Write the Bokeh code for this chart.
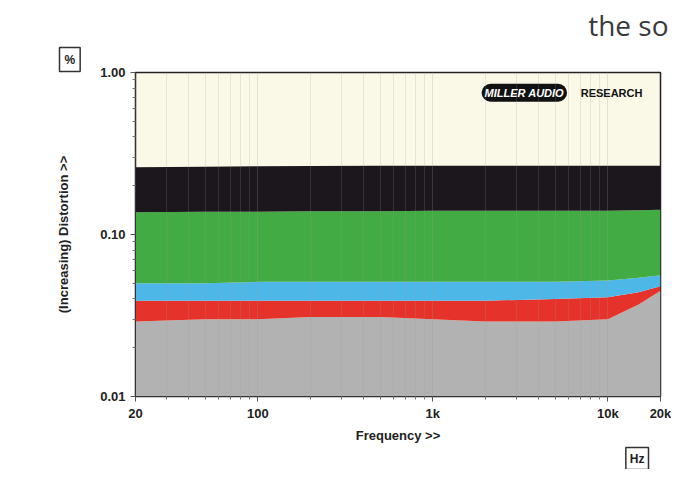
from bokeh.plotting import figure
from bokeh.models import FixedTicker, Label, Title
from bokeh.embed import file_html
from bokeh.resources import INLINE

# ---- data ----
freqs = [20, 50, 100, 200, 500, 1000, 2000, 5000, 10000, 15000, 20000]
gray_top = [0.029, 0.030, 0.030, 0.031, 0.031, 0.030, 0.029, 0.029, 0.030, 0.037, 0.045]
red_top = [0.039, 0.039, 0.039, 0.039, 0.039, 0.039, 0.039, 0.040, 0.041, 0.044, 0.048]
blue_top = [0.050, 0.050, 0.051, 0.051, 0.051, 0.051, 0.051, 0.051, 0.052, 0.054, 0.056]
green_top = [0.137, 0.138, 0.138, 0.139, 0.139, 0.140, 0.140, 0.140, 0.140, 0.141, 0.142]
black_top = [0.260, 0.262, 0.264, 0.265, 0.266, 0.266, 0.266, 0.266, 0.266, 0.266, 0.266]

x_ticks = [20, 100, 1000, 10000, 20000]
x_labels = ["20", "100", "1k", "10k", "20k"]
x_minor = [30, 40, 50, 60, 70, 80, 90, 200, 300, 400, 500, 600, 700, 800, 900,
           2000, 3000, 4000, 5000, 6000, 7000, 8000, 9000]
y_ticks = [0.01, 0.1, 1.0]
y_labels = ["0.01", "0.10", "1.00"]
y_minor = [0.02, 0.03, 0.04, 0.05, 0.06, 0.07, 0.08, 0.09,
           0.2, 0.3, 0.4, 0.5, 0.6, 0.7, 0.8, 0.9]

y_min, y_max = 0.01, 1.0
x_min, x_max = 20, 20000

FONT = "Liberation Sans"

p = figure(width=671, height=469, x_axis_type="log", y_axis_type="log",
           x_range=(x_min, x_max), y_range=(y_min, y_max),
           output_backend="svg", toolbar_location=None,
           min_border_left=135, min_border_right=11,
           min_border_top=72, min_border_bottom=69)
p.title = None

p.background_fill_color = "#faf8e6"
p.border_fill_color = "white"
p.outline_line_color = "#222222"
p.outline_line_width = 1.5

base = [y_min] * len(freqs)
bands = [
    (base, gray_top, "#b2b2b2"),
    (gray_top, red_top, "#e5322b"),
    (red_top, blue_top, "#4db7e8"),
    (blue_top, green_top, "#43ab43"),
    (green_top, black_top, "#1b171d"),
]
for lo, hi, col in bands:
    p.varea(x=freqs, y1=lo, y2=hi, fill_color=col)

# axes
for ax in (p.xaxis[0], p.yaxis[0]):
    ax.axis_line_color = "#333333"
    ax.major_tick_line_color = "#555555"
    ax.minor_tick_line_color = "#777777"
    ax.major_tick_out = 5
    ax.major_tick_in = 0
    ax.minor_tick_out = 3
    ax.minor_tick_in = 0
    ax.major_label_text_font = FONT
    ax.major_label_text_font_style = "bold"
    ax.major_label_text_font_size = "13px"
    ax.major_label_text_color = "#222222"
    ax.axis_label_text_font = FONT
    ax.axis_label_text_font_style = "bold"
    ax.axis_label_text_font_size = "13px"
    ax.axis_label_text_color = "#222222"

p.xaxis.ticker = FixedTicker(ticks=x_ticks, minor_ticks=x_minor)
p.xaxis.major_label_overrides = {t: l for t, l in zip(x_ticks, x_labels)}
p.xaxis.major_label_standoff = 4
p.xaxis.axis_label = "Frequency >>"
p.xaxis.axis_label_standoff = 4

p.yaxis.ticker = FixedTicker(ticks=y_ticks, minor_ticks=y_minor)
p.yaxis.major_label_overrides = {t: l for t, l in zip(y_ticks, y_labels)}
p.yaxis.axis_label = "(Increasing) Distortion >>"
p.yaxis.axis_label_standoff = 26

# faint vertical lines across the bands
p.ygrid.grid_line_color = None
p.xgrid.ticker = FixedTicker(ticks=x_ticks, minor_ticks=x_minor)
p.xgrid.grid_line_color = "#9a9a9a"
p.xgrid.grid_line_alpha = 0.25
p.xgrid.minor_grid_line_color = "#9a9a9a"
p.xgrid.minor_grid_line_alpha = 0.2
p.xgrid.level = "overlay"

# logo (data units, inside the frame)
p.add_layout(Label(x=1900, y=0.75, text="MILLER AUDIO", text_font=FONT,
                   text_font_style="bold italic", text_font_size="11px",
                   text_color="white", background_fill_color="#111111",
                   border_radius=9, padding=3, text_baseline="middle"))
p.add_layout(Label(x=7000, y=0.75, text="RESEARCH", text_font=FONT,
                   text_font_style="bold", text_font_size="11px",
                   text_color="#111111", text_baseline="middle"))

# unit boxes and page fragment as titles (outside the frame)
pct = Title(text="%", align="left", offset=-76, text_font=FONT,
            text_font_style="bold", text_font_size="12px", text_color="#222222",
            border_line_color="#333333", border_line_width=1.5,
            padding=5, standoff=2)
p.add_layout(pct, "above")
so = Title(text="the so", align="right", offset=-8, text_font="Open Sans",
           text_font_style="normal", text_font_size="28px", text_color="#3a3a3a",
           standoff=2)
p.add_layout(so, "above")
hz = Title(text="Hz", align="right", offset=12, text_font=FONT,
           text_font_style="bold", text_font_size="12px", text_color="#222222",
           border_line_color="#333333", border_line_width=1.5, padding=4,
           standoff=0)
p.add_layout(hz, "below")

open("out.html", "w").write(file_html(p, INLINE))
